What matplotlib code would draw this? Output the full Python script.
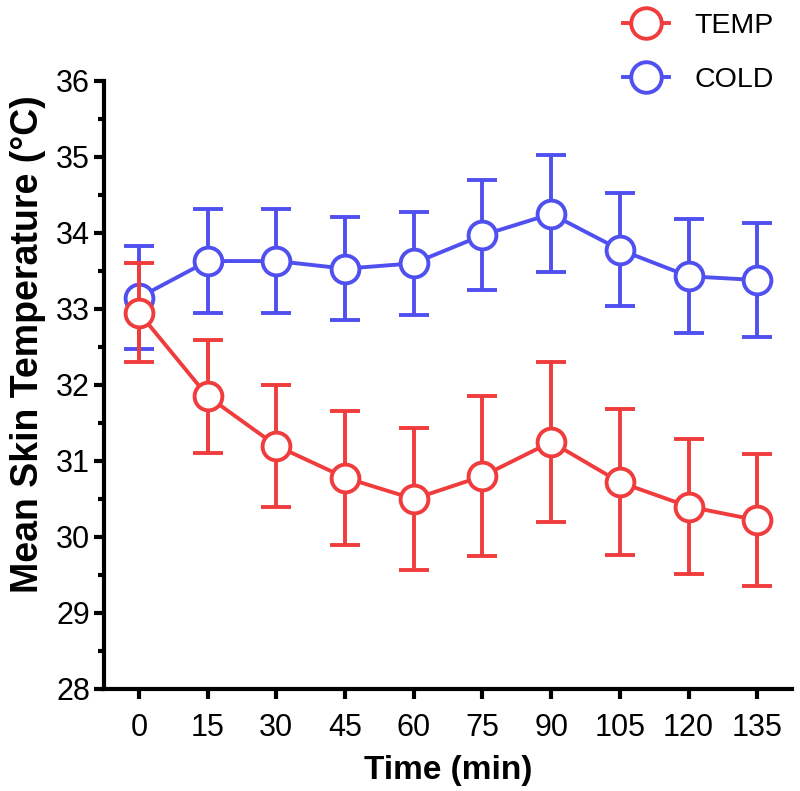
import numpy as np
import matplotlib.pyplot as plt
from matplotlib.ticker import MultipleLocator
from matplotlib.lines import Line2D

plt.rcParams['font.family'] = ['Liberation Sans', 'DejaVu Sans']

time = [0, 15, 30, 45, 60, 75, 90, 105, 120, 135]
temp_mean = [32.95, 31.85, 31.2, 30.78, 30.5, 30.8, 31.25, 30.72, 30.4, 30.22]
temp_sd = [0.65, 0.74, 0.8, 0.88, 0.94, 1.05, 1.05, 0.96, 0.89, 0.87]
cold_mean = [33.15, 33.63, 33.63, 33.53, 33.6, 33.97, 34.25, 33.78, 33.43, 33.38]
cold_sd = [0.68, 0.68, 0.68, 0.68, 0.68, 0.72, 0.77, 0.74, 0.75, 0.75]

red = '#F03C3C'
blue = '#5050F0'
lw = 2.8

fig = plt.figure(figsize=(8, 7.91), dpi=100)
ax = fig.add_axes([0.13, 0.129, 0.86, 0.7687])


def draw(mean, sd, color, z):
    ax.errorbar(time, mean, yerr=sd, color=color, lw=lw, elinewidth=lw,
                capsize=10.5, capthick=lw, marker='o', markersize=20,
                markerfacecolor='white', markeredgecolor=color,
                markeredgewidth=lw, zorder=z)


draw(cold_mean, cold_sd, blue, 3)
draw(temp_mean, temp_sd, red, 4)

ax.set_xlim(-7.65, 142.6)
ax.set_ylim(28, 36)
ax.set_xticks(time)
ax.yaxis.set_major_locator(MultipleLocator(1))
ax.yaxis.set_minor_locator(MultipleLocator(0.5))
for s in ['top', 'right']:
    ax.spines[s].set_visible(False)
for s in ['left', 'bottom']:
    ax.spines[s].set_linewidth(3)
ax.tick_params(which='major', length=7, width=3, labelsize=22, pad=3)
ax.tick_params(which='minor', length=4, width=3)
ax.tick_params(axis='x', labelsize=22, pad=10)

ax.set_xlabel('Time (min)', fontsize=24, fontweight='bold', labelpad=9)
ax.set_ylabel('Mean Skin Temperature (°C)', fontsize=27, fontweight='bold')
ax.yaxis.set_label_coords(-0.085, 0.567)

handles = [Line2D([], [], color=c, lw=lw, marker='o', markersize=22,
                  markerfacecolor='white', markeredgecolor=c, markeredgewidth=lw)
           for c in [red, blue]]
fig.legend(handles, ['TEMP', 'COLD'], loc='upper left', bbox_to_anchor=(0.747, 1.016),
           frameon=False, fontsize=20.5, handlelength=1.6,
           labelspacing=1.0, handletextpad=0.9)

fig.savefig('out.png', dpi=100)
